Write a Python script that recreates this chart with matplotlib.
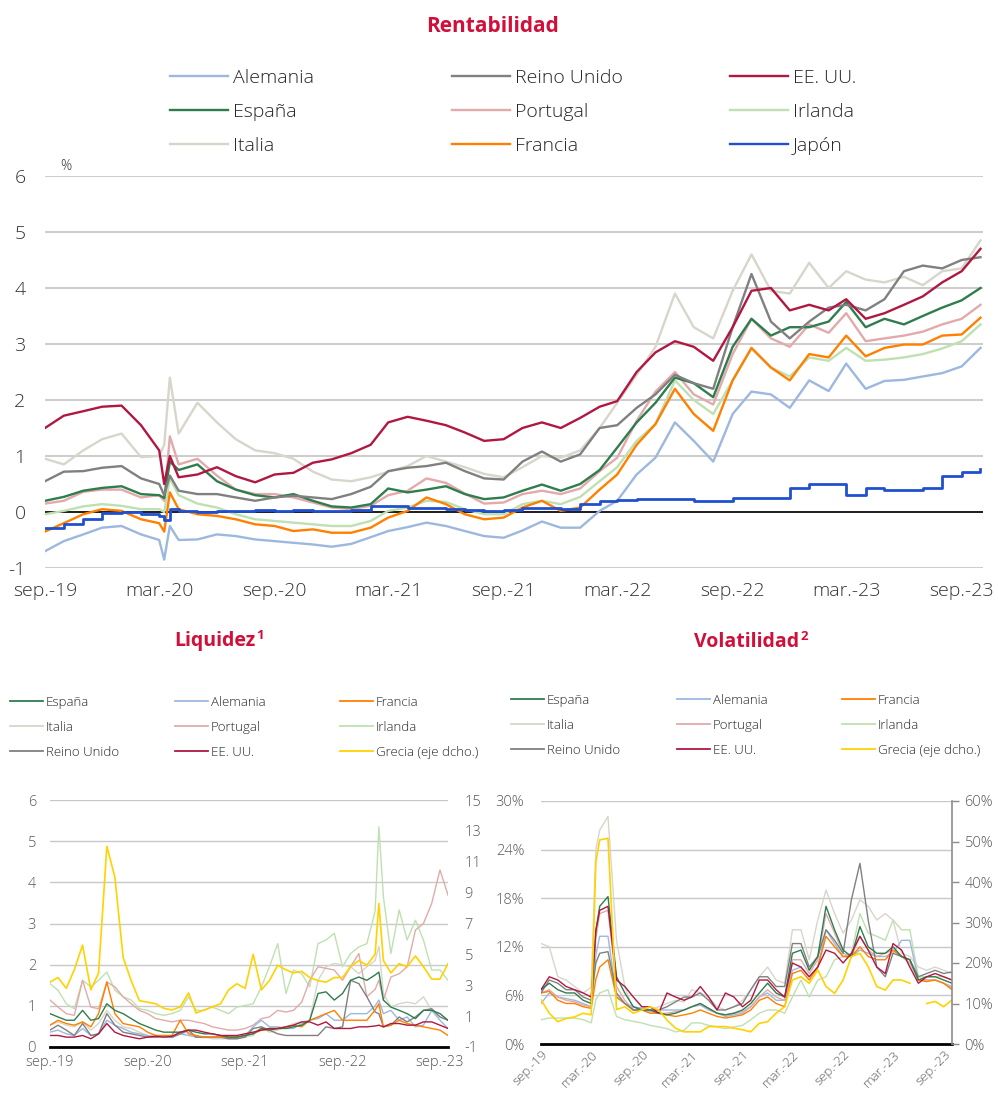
import matplotlib
matplotlib.use('Agg')
import matplotlib.pyplot as plt
from matplotlib.lines import Line2D
import numpy as np
import pandas as pd

plt.rcParams['font.family'] = ['Open Sans', 'DejaVu Sans']
plt.rcParams['font.weight'] = 'light'
plt.rcParams['axes.unicode_minus'] = False

nan = np.nan

# ---------------- dates ----------------
def month_dates(extra):
    d = list(pd.date_range('2019-09-01', '2023-10-01', freq='MS')) + [pd.Timestamp(e) for e in extra]
    return sorted(d)

rent_dates = month_dates(['2020-03-09', '2020-03-18'])
liq_dates = month_dates(['2023-01-15'])
vol_dates = month_dates(['2020-03-18'])

# ---------------- Rentabilidad (%) ----------------
rent_eeuu = [1.5, 1.72, 1.8, 1.88,
             1.9, 1.55, 1.1, 0.5, 1.0, 0.62, 0.67, 0.8, 0.64, 0.53, 0.67, 0.7, 0.88, 0.94,
             1.05, 1.2, 1.6, 1.7, 1.63, 1.55, 1.42, 1.27, 1.3, 1.5, 1.6, 1.5,
             1.68, 1.88, 1.98, 2.5, 2.85, 3.05, 2.95, 2.7, 3.3, 3.95, 4.0, 3.6,
             3.7, 3.6, 3.8, 3.45, 3.55, 3.7, 3.85, 4.1, 4.3, 4.7]
rent_italia = [0.95, 0.85, 1.1, 1.3,
               1.4, 0.98, 1.0, 1.2, 2.4, 1.4, 1.95, 1.6, 1.3, 1.1, 1.05, 0.95, 0.72, 0.58,
               0.55, 0.62, 0.72, 0.82, 1.0, 0.9, 0.8, 0.68, 0.62, 0.8, 1.0, 0.97,
               1.1, 1.5, 1.95, 2.45, 2.95, 3.9, 3.3, 3.1, 3.95, 4.6, 3.95, 3.9,
               4.45, 4.0, 4.3, 4.15, 4.1, 4.2, 4.05, 4.3, 4.35, 4.85]
rent_ru = [0.55, 0.72, 0.73, 0.79,
           0.82, 0.6, 0.5, 0.3, 0.65, 0.38, 0.32, 0.32, 0.26, 0.2, 0.26, 0.29, 0.26, 0.23,
           0.32, 0.45, 0.73, 0.79, 0.82, 0.88, 0.73, 0.6, 0.58, 0.9, 1.08, 0.9,
           1.03, 1.5, 1.55, 1.86, 2.1, 2.45, 2.3, 2.2, 3.3, 4.25, 3.4, 3.1,
           3.4, 3.65, 3.7, 3.6, 3.8, 4.3, 4.4, 4.35, 4.5, 4.55]
rent_espana = [0.2, 0.27, 0.38, 0.43,
               0.46, 0.32, 0.3, 0.25, 0.9, 0.75, 0.85, 0.55, 0.4, 0.3, 0.26, 0.32, 0.2, 0.1,
               0.08, 0.14, 0.42, 0.35, 0.4, 0.46, 0.32, 0.23, 0.26, 0.38, 0.49, 0.38,
               0.5, 0.75, 1.15, 1.6, 1.95, 2.4, 2.3, 2.05, 2.95, 3.45, 3.15, 3.3,
               3.3, 3.4, 3.75, 3.3, 3.45, 3.35, 3.5, 3.65, 3.78, 4.0]
rent_portugal = [0.15, 0.2, 0.36, 0.4,
                 0.4, 0.26, 0.3, 0.2, 1.35, 0.85, 0.95, 0.65, 0.4, 0.32, 0.32, 0.26, 0.17, 0.08,
                 0.05, 0.11, 0.3, 0.38, 0.6, 0.52, 0.33, 0.15, 0.17, 0.32, 0.38, 0.32,
                 0.42, 0.73, 0.97, 1.63, 2.15, 2.5, 2.1, 1.92, 2.82, 3.45, 3.1, 2.95,
                 3.35, 3.2, 3.55, 3.05, 3.1, 3.15, 3.22, 3.35, 3.45, 3.7]
rent_irlanda = [-0.04, 0.02, 0.1, 0.14,
                0.11, 0.05, 0.05, 0.0, 0.6, 0.3, 0.15, 0.08, -0.04, -0.13, -0.16, -0.19, -0.22, -0.25,
                -0.25, -0.16, 0.02, 0.08, 0.2, 0.18, 0.05, -0.04, -0.04, 0.14, 0.2, 0.14,
                0.27, 0.55, 0.8, 1.27, 1.57, 2.35, 2.0, 1.75, 2.35, 2.92, 2.58, 2.42,
                2.76, 2.7, 2.93, 2.7, 2.72, 2.76, 2.82, 2.92, 3.05, 3.35]
rent_francia = [-0.35, -0.2, -0.04, 0.05,
                0.02, -0.13, -0.2, -0.35, 0.35, 0.05, -0.04, -0.07, -0.13, -0.22, -0.25, -0.34, -0.31, -0.37,
                -0.37, -0.28, -0.1, 0.02, 0.26, 0.14, -0.04, -0.13, -0.1, 0.08, 0.2, 0.02,
                0.08, 0.4, 0.67, 1.2, 1.57, 2.2, 1.75, 1.45, 2.35, 2.93, 2.58, 2.35,
                2.82, 2.76, 3.15, 2.78, 2.93, 2.99, 2.99, 3.15, 3.17, 3.47]
rent_alemania = [-0.7, -0.52, -0.4, -0.28,
                 -0.25, -0.4, -0.5, -0.85, -0.25, -0.5, -0.49, -0.4, -0.43, -0.49, -0.52, -0.55, -0.58, -0.62,
                 -0.57, -0.45, -0.34, -0.27, -0.19, -0.25, -0.34, -0.43, -0.46, -0.33, -0.17, -0.28,
                 -0.28, 0.02, 0.2, 0.67, 0.97, 1.6, 1.27, 0.9, 1.75, 2.15, 2.1, 1.86,
                 2.35, 2.16, 2.65, 2.2, 2.34, 2.36, 2.42, 2.48, 2.6, 2.93]
rent_japon = [-0.28, -0.22, -0.12, -0.02,
              0.0, -0.04, -0.08, -0.15, 0.05, 0.02, 0.0, 0.02, 0.02, 0.03, 0.02, 0.03, 0.02, 0.02,
              0.04, 0.1, 0.1, 0.08, 0.08, 0.05, 0.03, 0.02, 0.04, 0.08, 0.07, 0.06,
              0.14, 0.2, 0.22, 0.23, 0.24, 0.23, 0.2, 0.2, 0.25, 0.25, 0.25, 0.42,
              0.5, 0.5, 0.3, 0.42, 0.4, 0.4, 0.42, 0.65, 0.72, 0.77]

# ---------------- Liquidez ----------------
liq_grecia = [3.2, 3.5, 2.8, 4.0,
              5.6, 2.7, 3.8, 12.0, 10.0, 4.8, 3.3, 2.0, 1.9, 1.8, 1.5, 1.4,
              1.6, 2.5, 1.2, 1.4, 1.6, 1.8, 2.7, 3.1, 2.8, 5.0, 2.7, 3.3,
              4.3, 4.0, 3.8, 3.9, 3.5, 3.3, 3.2, 3.5, 3.5, 4.2, 4.6, 4.3,
              5.0, 8.3, 4.6, 3.8, 4.4, 4.2, 4.9, 4.2, 3.4, 3.4, 4.4]
liq_irlanda = [1.54, 1.38, 1.05, 0.93,
               1.62, 1.46, 1.62, 1.82, 1.38, 1.22, 1.14, 0.93, 0.89, 0.81, 0.77, 0.81,
               0.89, 1.22, 0.89, 0.89, 0.97, 0.89, 0.81, 0.97, 1.01, 1.05, 1.46, 1.95,
               2.51, 1.3, 1.87, 1.78, 1.46, 2.51, 2.6, 2.76, 1.95, 2.27, 2.43, 2.51,
               3.3, 5.35, 3.65, 2.27, 3.33, 2.6, 3.08, 2.6, 1.87, 1.87, 1.62]
liq_portugal = [1.14, 0.97, 0.81, 0.77,
                1.62, 0.97, 0.93, 1.58, 1.46, 1.22, 1.05, 0.89, 0.81, 0.69, 0.65, 0.61,
                0.65, 0.65, 0.61, 0.57, 0.49, 0.45, 0.41, 0.41, 0.45, 0.53, 0.69, 0.73,
                0.89, 0.85, 0.89, 1.09, 1.62, 1.95, 1.91, 1.87, 1.62, 1.95, 2.27, 1.22,
                1.4, 1.62, 1.14, 1.7, 1.78, 1.95, 2.84, 3.0, 3.49, 4.3, 3.69]
liq_italia = [0.53, 0.61, 0.53, 0.49,
              0.61, 0.41, 0.57, 0.89, 0.65, 0.49, 0.45, 0.36, 0.28, 0.28, 0.24, 0.24,
              0.32, 0.36, 0.24, 0.24, 0.2, 0.2, 0.2, 0.2, 0.24, 0.28, 0.49, 0.36,
              0.41, 0.49, 0.57, 0.61, 0.65, 1.62, 1.95, 2.03, 1.99, 1.95, 1.78, 1.95,
              2.1, 2.45, 1.3, 0.97, 1.05, 1.09, 1.05, 1.22, 0.89, 0.73, 0.65]
liq_espana = [0.81, 0.73, 0.65, 0.65,
              0.89, 0.65, 0.69, 1.05, 0.89, 0.81, 0.69, 0.57, 0.49, 0.41, 0.36, 0.36,
              0.36, 0.41, 0.36, 0.32, 0.32, 0.28, 0.24, 0.24, 0.28, 0.32, 0.45, 0.41,
              0.45, 0.45, 0.49, 0.53, 0.65, 1.3, 1.34, 1.14, 1.3, 1.62, 1.7, 1.62,
              1.75, 1.82, 1.14, 0.97, 0.89, 0.81, 0.69, 0.89, 0.89, 0.81, 0.65]
liq_ru = [0.41, 0.53, 0.41, 0.28,
          0.57, 0.28, 0.32, 0.81, 0.53, 0.36, 0.32, 0.28, 0.24, 0.24, 0.28, 0.24,
          0.32, 0.41, 0.24, 0.24, 0.24, 0.24, 0.2, 0.2, 0.24, 0.45, 0.49, 0.41,
          0.32, 0.28, 0.28, 0.28, 0.28, 0.28, 0.49, 0.45, 0.49, 1.62, 1.54, 1.22,
          0.85, 0.81, 0.49, 0.53, 0.73, 0.61, 0.73, 0.89, 0.93, 0.73, 0.65]
liq_francia = [0.53, 0.65, 0.57, 0.53,
               0.61, 0.49, 0.81, 1.58, 0.81, 0.57, 0.53, 0.49, 0.36, 0.28, 0.28, 0.28,
               0.65, 0.32, 0.28, 0.24, 0.24, 0.24, 0.24, 0.24, 0.28, 0.32, 0.41, 0.41,
               0.45, 0.49, 0.53, 0.49, 0.65, 0.73, 0.81, 0.89, 0.65, 0.65, 0.65, 0.65,
               0.9, 1.05, 0.49, 0.53, 0.65, 0.57, 0.53, 0.49, 0.45, 0.41, 0.28]
liq_alemania = [0.36, 0.41, 0.32, 0.28,
                0.45, 0.28, 0.32, 0.65, 0.53, 0.45, 0.36, 0.32, 0.28, 0.24, 0.24, 0.23,
                0.32, 0.28, 0.24, 0.23, 0.24, 0.24, 0.24, 0.24, 0.28, 0.49, 0.65, 0.49,
                0.49, 0.45, 0.45, 0.57, 0.65, 0.69, 0.81, 0.65, 0.65, 0.81, 0.81, 0.81,
                1.0, 1.14, 0.81, 0.89, 0.65, 0.73, 0.49, 0.53, 0.89, 0.65, 0.45]
liq_eeuu = [0.28, 0.28, 0.24, 0.24,
            0.28, 0.2, 0.32, 0.57, 0.36, 0.28, 0.24, 0.2, 0.24, 0.26, 0.24, 0.26,
            0.36, 0.41, 0.41, 0.36, 0.32, 0.28, 0.28, 0.28, 0.32, 0.36, 0.41, 0.45,
            0.45, 0.49, 0.53, 0.61, 0.61, 0.53, 0.61, 0.45, 0.45, 0.45, 0.49, 0.49,
            0.51, 0.53, 0.49, 0.57, 0.57, 0.53, 0.53, 0.61, 0.61, 0.53, 0.45]

# ---------------- Volatilidad (%) ----------------
vol_italia = [12.4, 12.0, 8.3, 7.9,
              7.1, 6.3, 7.0, 24.0, 26.4, 28.1, 12.8, 7.1, 4.2, 4.6, 4.2, 4.6, 5.0,
              5.4, 5.2, 6.7, 6.3, 5.8, 4.6, 4.2, 4.6, 5.4, 6.7, 8.3, 9.5,
              7.9, 7.5, 14.1, 14.1, 10.4, 15.3, 19.0, 16.1, 13.7, 15.3, 17.8, 17.0,
              15.3, 16.1, 15.3, 11.2, 10.8, 9.5, 9.1, 9.5, 9.1, 8.7]
vol_ru = [6.3, 7.9, 7.5, 6.7,
          6.7, 5.8, 5.4, 10.0, 11.2, 11.4, 6.3, 5.0, 4.2, 4.2, 4.2, 4.2, 4.6,
          5.2, 5.8, 5.8, 6.3, 5.4, 4.2, 4.2, 4.6, 5.0, 6.7, 8.3, 8.3,
          7.1, 7.1, 12.4, 12.4, 9.5, 10.8, 14.1, 12.8, 11.2, 17.8, 22.3, 15.3,
          9.5, 8.3, 11.2, 10.8, 10.4, 8.3, 8.7, 9.1, 8.7, 8.9]
vol_espana = [6.7, 7.5, 6.7, 6.3,
              6.3, 5.4, 5.0, 14.0, 17.0, 18.2, 8.3, 6.3, 4.6, 4.2, 4.2, 3.8, 3.6,
              3.8, 4.2, 4.6, 5.0, 4.4, 3.8, 3.6, 3.8, 4.2, 5.0, 6.3, 7.5,
              6.3, 5.8, 11.2, 11.6, 9.1, 10.8, 17.0, 14.1, 11.6, 10.8, 14.5, 12.0,
              11.2, 11.2, 12.0, 10.8, 10.4, 7.9, 8.3, 8.3, 7.9, 7.5]
vol_eeuu = [6.7, 8.3, 7.9, 7.1,
            6.7, 6.3, 5.8, 14.0, 16.5, 17.0, 7.9, 7.1, 5.8, 4.6, 4.6, 3.8, 6.3,
            5.8, 5.4, 5.8, 7.1, 5.8, 4.2, 6.3, 5.8, 4.6, 5.4, 7.9, 7.9,
            6.7, 5.8, 10.0, 9.5, 8.3, 9.5, 11.6, 11.2, 10.0, 11.2, 13.3, 11.6,
            9.5, 8.7, 12.4, 11.6, 9.5, 7.5, 8.3, 8.7, 8.3, 7.9]
vol_portugal = [6.3, 6.7, 5.8, 5.4,
                5.2, 4.8, 4.6, 13.0, 16.1, 16.5, 7.1, 5.4, 4.2, 4.2, 4.0, 3.8, 3.8,
                4.0, 4.2, 4.6, 5.0, 4.4, 3.8, 3.6, 3.8, 4.0, 4.6, 5.8, 6.7,
                5.8, 5.4, 10.4, 10.4, 8.7, 10.4, 16.1, 13.7, 11.2, 10.8, 13.3, 11.6,
                10.8, 11.2, 11.6, 10.8, 10.0, 7.9, 7.9, 7.9, 7.5, 6.9]
vol_alemania = [5.0, 6.3, 5.8, 5.6,
                5.4, 5.0, 4.6, 11.0, 13.3, 13.3, 5.8, 5.0, 4.6, 4.4, 4.2, 4.2, 4.2,
                4.2, 4.2, 4.6, 4.8, 4.2, 3.8, 3.4, 3.6, 3.8, 4.6, 5.8, 6.3,
                5.4, 5.4, 9.1, 9.5, 8.3, 9.5, 14.1, 12.4, 10.8, 10.8, 11.6, 11.2,
                10.8, 10.8, 11.2, 12.8, 12.8, 7.9, 7.9, 7.9, 7.5, 7.1]
vol_francia = [6.3, 6.5, 5.4, 5.0,
               5.0, 4.6, 4.4, 8.0, 9.5, 10.4, 5.8, 5.0, 4.2, 4.2, 3.8, 3.8, 3.6,
               3.4, 3.6, 3.8, 4.2, 3.8, 3.4, 3.2, 3.4, 3.6, 4.2, 5.4, 5.8,
               5.0, 4.6, 8.7, 9.1, 7.9, 9.5, 13.3, 12.0, 10.8, 10.8, 12.0, 10.8,
               10.4, 10.4, 11.6, 10.8, 10.4, 7.9, 7.7, 7.9, 7.5, 6.7]
vol_irlanda = [3.0, 3.2, 3.2, 3.2,
               3.2, 3.0, 2.6, 5.5, 6.3, 6.7, 3.4, 3.0, 2.8, 2.6, 2.3, 2.1, 1.9,
               1.5, 1.7, 2.6, 2.6, 2.3, 2.1, 1.9, 2.1, 2.3, 3.0, 3.8, 4.2,
               4.2, 3.8, 5.8, 7.9, 5.8, 7.9, 8.3, 10.4, 10.8, 11.2, 16.1, 13.7,
               13.3, 12.8, 15.3, 14.1, 14.1, 8.3, 8.3, 8.3, 8.3, 7.9]
vol_grecia = [10.9, 7.6, 5.5, 6.3,
              6.7, 7.6, 7.2, 45.0, 50.4, 50.8, 8.5, 9.2, 7.6, 8.4, 9.2, 8.4, 5.9,
              3.9, 3.0, 3.0, 3.0, 4.3, 4.3, 4.3, 3.9, 3.5, 3.0, 5.1, 5.5,
              7.6, 9.2, 15.8, 16.6, 15.0, 18.3, 14.2, 12.5, 15.8, 21.6, 22.4, 19.1,
              14.2, 13.3, 15.8, 15.8, 15.0, nan, 10.0, 10.5, 9.2, 10.9]

# ---------------- styling ----------------
C = {
    'Alemania': '#9DB8DE', 'Reino Unido': '#808080', 'EE. UU.': '#B01842',
    'España': '#2F7D4E', 'Portugal': '#E2AAAA', 'Irlanda': '#BFE0B0',
    'Italia': '#D8D5CB', 'Francia': '#FF8000', 'Japón': '#2050D0',
    'Grecia (eje dcho.)': '#FFD200',
}
TITLE_C = '#D0103A'
GRID_C = '#C8C8C8'
W, H = 998, 1093

def fx(px):
    return px / W

def fy(py):
    return 1 - py / H

fig = plt.figure(figsize=(W / 100, H / 100), dpi=100)

# ================= Rentabilidad =================
fig.text(fx(492), fy(26), 'Rentabilidad', ha='center', va='center',
         fontsize=15, fontweight='bold', color=TITLE_C)

ax = fig.add_axes([fx(45), fy(568), fx(983) - fx(45), fy(176) - fy(568)])
rent_series = [('Italia', rent_italia), ('Irlanda', rent_irlanda), ('Portugal', rent_portugal),
               ('Alemania', rent_alemania), ('Francia', rent_francia), ('España', rent_espana),
               ('Reino Unido', rent_ru), ('EE. UU.', rent_eeuu)]
for name, vals in rent_series:
    ax.plot(rent_dates, vals, color=C[name], lw=1.7, solid_joinstyle='round')
ax.plot(rent_dates, rent_japon, color=C['Japón'], lw=2.0, drawstyle='steps-post')
ax.axhline(0, color='black', lw=1.2, zorder=1.5)
ax.set_ylim(-1, 6)
ax.set_xlim(rent_dates[0], rent_dates[-1] + pd.Timedelta(days=4))
ax.set_yticks(range(-1, 7))
ax.set_yticklabels([str(v) for v in range(-1, 7)])
top_ticks = pd.date_range('2019-09-01', '2023-09-01', freq='6MS')
top_labels = ['sep.-19', 'mar.-20', 'sep.-20', 'mar.-21', 'sep.-21',
              'mar.-22', 'sep.-22', 'mar.-23', 'sep.-23']
ax.set_xticks(top_ticks)
ax.set_xticklabels(top_labels)
ax.grid(axis='y', color=GRID_C, lw=1.3)
ax.set_axisbelow(True)
for s in ax.spines.values():
    s.set_visible(False)
ax.tick_params(axis='both', length=0, labelsize=14, colors='#333333')
ax.tick_params(axis='y', pad=14)
ax.tick_params(axis='x', pad=10)
ax.text(0.016, 1.005, '%', transform=ax.transAxes, fontsize=10, color='#333333', va='bottom')

def col_legend(handles_names, x, y, fs, hl, hp, ls, lw):
    handles = [Line2D([], [], color=C[n], lw=lw) for n in handles_names]
    fig.legend(handles, handles_names, loc='upper left', bbox_to_anchor=(fx(x), fy(y)),
               frameon=False, prop={'size': fs, 'weight': 'light'}, handlelength=hl,
               handletextpad=hp, labelspacing=ls, borderpad=0, borderaxespad=0,
               labelcolor='#262626')

def title_with_sup(host_ax, x, y, text, sup):
    t = fig.text(fx(x), fy(y), text, ha='left', va='center',
                 fontsize=14, fontweight='bold', color=TITLE_C)
    host_ax.annotate(sup, xy=(1.0, 1.0), xycoords=t, xytext=(1.0, 1.5),
                     textcoords='offset points', ha='left', va='top',
                     fontsize=9.5, fontweight='bold', color=TITLE_C, annotation_clip=False)

top_cols = [['Alemania', 'España', 'Italia'],
            ['Reino Unido', 'Portugal', 'Francia'],
            ['EE. UU.', 'Irlanda', 'Japón']]
for names, x in zip(top_cols, [170, 452, 730]):
    col_legend(names, x, 69, 14, 3.0, 0.25, 0.82, 1.7)

# ================= Liquidez =================
bot_cols = [['España', 'Italia', 'Reino Unido'],
            ['Alemania', 'Portugal', 'EE. UU.'],
            ['Francia', 'Irlanda', 'Grecia (eje dcho.)']]
for names, x in zip(bot_cols, [10, 175, 340]):
    col_legend(names, x, 696, 9.5, 2.5, 0.2, 0.9, 1.3)

axl = fig.add_axes([fx(50), fy(1047), fx(448) - fx(50), fy(800) - fy(1047)])
title_with_sup(axl, 174, 641, 'Liquidez', '1')
liq_series = [('Irlanda', liq_irlanda), ('Italia', liq_italia), ('Portugal', liq_portugal),
              ('Alemania', liq_alemania), ('Reino Unido', liq_ru), ('Francia', liq_francia),
              ('España', liq_espana), ('EE. UU.', liq_eeuu)]
for name, vals in liq_series:
    axl.plot(liq_dates, vals, color=C[name], lw=1.0)
axl.set_ylim(0, 6)
axl.set_xlim(liq_dates[0], liq_dates[-1])
axl.set_yticks(range(0, 7))
axl.grid(axis='y', color=GRID_C, lw=1.0)
axl.set_axisbelow(True)
for s in axl.spines.values():
    s.set_visible(False)
axl.axhline(0, color='black', lw=2.0, clip_on=False, zorder=5)
liq_ticks = pd.date_range('2019-09-01', '2023-09-01', freq='12MS')
axl.set_xticks(liq_ticks)
axl.set_xticklabels(['sep.-19', 'sep.-20', 'sep.-21', 'sep.-22', 'sep.-23'])
axl.tick_params(axis='both', length=0, labelsize=10.5, colors='#595959')
axl.tick_params(axis='y', pad=10)
axl.tick_params(axis='x', pad=6)
axl2 = axl.twinx()
axl2.plot(liq_dates, liq_grecia, color=C['Grecia (eje dcho.)'], lw=1.2)
axl2.set_ylim(-1, 15)
axl2.set_yticks(range(-1, 16, 2))
axl2.set_yticklabels([str(v) for v in range(-1, 16, 2)])
for s in axl2.spines.values():
    s.set_visible(False)
axl2.tick_params(axis='y', length=0, labelsize=10.5, colors='#595959', pad=12)

# ================= Volatilidad =================
for names, x in zip(bot_cols, [511, 677, 842]):
    col_legend(names, x, 694, 9.5, 2.5, 0.2, 0.9, 1.3)

axv = fig.add_axes([fx(541), fy(1044), fx(952) - fx(541), fy(801) - fy(1044)])
title_with_sup(axv, 694, 642, 'Volatilidad', '2')
vol_series = [('Irlanda', vol_irlanda), ('Italia', vol_italia), ('Alemania', vol_alemania),
              ('Portugal', vol_portugal), ('Francia', vol_francia), ('Reino Unido', vol_ru),
              ('España', vol_espana), ('EE. UU.', vol_eeuu)]
for name, vals in vol_series:
    axv.plot(vol_dates, vals, color=C[name], lw=1.0)
axv.set_ylim(0, 30)
axv.set_xlim(vol_dates[0], vol_dates[-1])
axv.set_yticks(range(0, 31, 6))
axv.set_yticklabels([f'{v}%' for v in range(0, 31, 6)])
axv.grid(axis='y', color=GRID_C, lw=1.0)
axv.set_axisbelow(True)
for s in axv.spines.values():
    s.set_visible(False)
axv.axhline(0, color='black', lw=2.0, clip_on=False, zorder=5)
axv.set_xticks(top_ticks)
axv.set_xticklabels(top_labels, rotation=45, ha='right', rotation_mode='anchor')
axv.tick_params(axis='both', length=0, labelsize=10.5, colors='#595959')
axv.tick_params(axis='x', labelsize=9.5, pad=3)
axv.tick_params(axis='y', pad=12)
axv2 = axv.twinx()
axv2.plot(vol_dates, vol_grecia, color=C['Grecia (eje dcho.)'], lw=1.2)
axv2.set_ylim(0, 60)
axv2.set_yticks(range(0, 61, 10))
axv2.set_yticklabels([f'{v}%' for v in range(0, 61, 10)])
for k, s in axv2.spines.items():
    s.set_visible(k == 'right')
axv2.spines['right'].set_color('#8C8C8C')
axv2.spines['right'].set_linewidth(1.2)
axv2.tick_params(axis='y', direction='out', length=5, width=1.0, color='#8C8C8C',
                 labelsize=10.5, labelcolor='#595959', pad=4)

fig.savefig('out.png', dpi=100)
